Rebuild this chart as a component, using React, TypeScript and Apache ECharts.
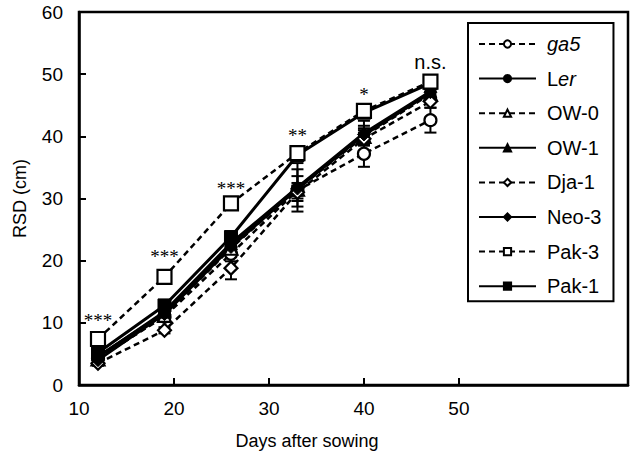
import React, { useEffect, useRef } from "react";
import * as echarts from "echarts";

const days = [12, 19, 26, 33, 40, 47];
const xTicks = [10, 20, 30, 40, 50];

const ga5 = [4.3, 11.0, 21.1, 31.3, 37.2, 42.6];
const ler = [4.6, 11.6, 22.5, 31.7, 40.2, 47.0];
const ow0 = [4.2, 11.2, 22.0, 31.5, 40.0, 46.8];
const ow1 = [4.5, 11.8, 22.8, 31.8, 40.5, 47.2];
const dja1 = [3.5, 8.8, 18.8, 31.0, 39.6, 45.6];
const neo3 = [4.0, 11.4, 22.2, 31.6, 40.3, 47.1];
const pak3 = [7.4, 17.4, 29.2, 37.3, 44.1, 48.8];
const pak1 = [5.2, 12.8, 23.8, 37.0, 43.8, 48.5];

const ga5Err = [0.5, 0.6, 1.2, 0.8, 2.1, 2.0];
const lerErr = [0.4, 0.5, 0.8, 3.0, 1.5, 1.0];
const ow0Err = [0.4, 0.5, 0.7, 1.0, 1.0, 0.8];
const ow1Err = [0.4, 0.5, 0.7, 3.9, 2.0, 0.8];
const dja1Err = [0.4, 0.5, 1.8, 1.0, 1.0, 1.0];
const neo3Err = [0.4, 0.5, 0.7, 2.0, 1.0, 0.8];
const pak3Err = [0.4, 0.5, 0.6, 0.6, 0.8, 0.6];
const pak1Err = [0.4, 0.5, 0.7, 0.8, 0.8, 0.6];

const sigLabels = ["***", "***", "***", "**", "*", "n.s."];
const sigY = [10.0, 20.2, 31.2, 39.8, 46.3, 51.4];

const SANS = "'Liberation Sans', Arial, Helvetica, sans-serif";
const SERIF = "'Liberation Serif', 'Times New Roman', serif";

type Def = {
  name: string;
  label: string;
  values: number[];
  err: number[];
  symbol: string;
  open: boolean;
  size: number;
};

const defs: Def[] = [
  { name: "ga5", label: "{i|ga5}", values: ga5, err: ga5Err, symbol: "circle", open: true, size: 12 },
  { name: "Ler", label: "L{i|er}", values: ler, err: lerErr, symbol: "circle", open: false, size: 11 },
  { name: "OW-0", label: "OW-0", values: ow0, err: ow0Err, symbol: "triangle", open: true, size: 13 },
  { name: "OW-1", label: "OW-1", values: ow1, err: ow1Err, symbol: "triangle", open: false, size: 13 },
  { name: "Dja-1", label: "Dja-1", values: dja1, err: dja1Err, symbol: "diamond", open: true, size: 13 },
  { name: "Neo-3", label: "Neo-3", values: neo3, err: neo3Err, symbol: "diamond", open: false, size: 13 },
  { name: "Pak-3", label: "Pak-3", values: pak3, err: pak3Err, symbol: "rect", open: true, size: 14 },
  { name: "Pak-1", label: "Pak-1", values: pak1, err: pak1Err, symbol: "rect", open: false, size: 13 },
];

export default function App() {
  const ref = useRef<HTMLDivElement>(null);

  useEffect(() => {
    if (!ref.current) return;
    const chart = echarts.init(ref.current, null, { renderer: "svg" });

    const errData: number[][] = [];
    defs.forEach((d) => d.values.forEach((v, i) => errData.push([days[i], v, d.err[i]])));

    const lineSeries = defs.map((d) => ({
      type: "line",
      name: d.name,
      data: d.values.map((v, i) => [days[i], v]),
      symbol: d.symbol,
      symbolSize: d.size,
      showSymbol: true,
      z: d.name === "Pak-3" ? 4 : 3,
      lineStyle: { color: "#000", width: d.open ? 2.5 : 3, type: d.open ? [6, 4] : "solid" },
      itemStyle: d.open
        ? { color: "#fff", borderColor: "#000", borderWidth: 2.2 }
        : { color: "#000", borderColor: "#000", borderWidth: 1 },
      emphasis: { disabled: true },
    }));

    const labelMap: Record<string, string> = {};
    defs.forEach((d) => (labelMap[d.name] = d.label));

    chart.setOption({
      animation: false,
      backgroundColor: "#fff",
      title: {
        text: "Days after sowing",
        left: 302,
        top: 427,
        textAlign: "center",
        textStyle: { fontFamily: SANS, fontSize: 18, fontWeight: "normal", color: "#000" },
      },
      grid: {
        left: 79,
        top: 12,
        right: 5,
        bottom: 70,
        show: true,
        borderColor: "#000",
        borderWidth: 2.5,
        backgroundColor: "transparent",
      },
      legend: {
        orient: "vertical",
        left: 468,
        top: 23,
        padding: [11, 12, 5, 10],
        backgroundColor: "#fff",
        borderColor: "#000",
        borderWidth: 2,
        itemWidth: 57,
        itemHeight: 9,
        itemGap: 14.6,
        data: defs.map((d) => d.name),
        formatter: (n: string) => labelMap[n],
        textStyle: {
          fontFamily: SANS,
          fontSize: 20,
          color: "#000",
          padding: [0, 0, 0, 6],
          rich: {
            i: { fontFamily: SANS, fontSize: 20, fontStyle: "italic", color: "#000" },
          },
        },
      },
      xAxis: {
        type: "value",
        min: 10,
        max: 67.8,
        interval: 10,
        axisLine: { lineStyle: { color: "#000", width: 2.5 } },
        axisTick: { inside: true, length: 7, lineStyle: { color: "#000", width: 2 }, customValues: xTicks },
        axisLabel: {
          customValues: xTicks,
          margin: 14,
          fontFamily: SANS,
          fontSize: 19,
          color: "#000",
        },
        splitLine: { show: false },
      },
      yAxis: {
        type: "value",
        min: 0,
        max: 60,
        interval: 10,
        name: "RSD (cm)",
        nameLocation: "middle",
        nameGap: 50,
        nameRotate: 90,
        nameTextStyle: { fontFamily: SANS, fontSize: 18, color: "#000" },
        axisLine: { lineStyle: { color: "#000", width: 2.5 } },
        axisTick: { inside: true, length: 7, lineStyle: { color: "#000", width: 2 } },
        axisLabel: { margin: 16, fontFamily: SANS, fontSize: 19, color: "#000" },
        splitLine: { show: false },
      },
      series: [
        {
          type: "custom",
          name: "errors",
          z: 2,
          silent: true,
          data: errData,
          encode: { x: 0, y: 1 },
          renderItem: (params: any, api: any) => {
            const x = api.value(0);
            const y = api.value(1);
            const e = api.value(2);
            const top = api.coord([x, y + e]);
            const bot = api.coord([x, y - e]);
            const hw = 6;
            const st = { stroke: "#000", lineWidth: 2 };
            return {
              type: "group",
              children: [
                { type: "line", shape: { x1: top[0], y1: top[1], x2: bot[0], y2: bot[1] }, style: st },
                { type: "line", shape: { x1: top[0] - hw, y1: top[1], x2: top[0] + hw, y2: top[1] }, style: st },
                { type: "line", shape: { x1: bot[0] - hw, y1: bot[1], x2: bot[0] + hw, y2: bot[1] }, style: st },
              ],
            };
          },
        },
        ...lineSeries,
        {
          type: "scatter",
          name: "sig",
          silent: true,
          symbolSize: 2,
          itemStyle: { color: "rgba(0,0,0,0)" },
          z: 5,
          data: days.map((d, i) => [d, sigY[i]]),
          label: {
            show: true,
            position: "top",
            distance: -8,
            color: "#000",
            opacity: 1,
            textBorderWidth: 0,
            formatter: (p: any) => {
              const s = sigLabels[p.dataIndex];
              return s === "n.s." ? `{n|${s}}` : `{s|${s}}`;
            },
            rich: {
              s: { fontFamily: SERIF, fontSize: 19, color: "#000", textBorderWidth: 0 },
              n: { fontFamily: SANS, fontSize: 20, color: "#000", textBorderWidth: 0 },
            },
          },
        },
      ],
    });

    return () => chart.dispose();
  }, []);

  return <div ref={ref} style={{ width: 633, height: 455, position: "absolute", left: 0, top: 0 }} />;
}
